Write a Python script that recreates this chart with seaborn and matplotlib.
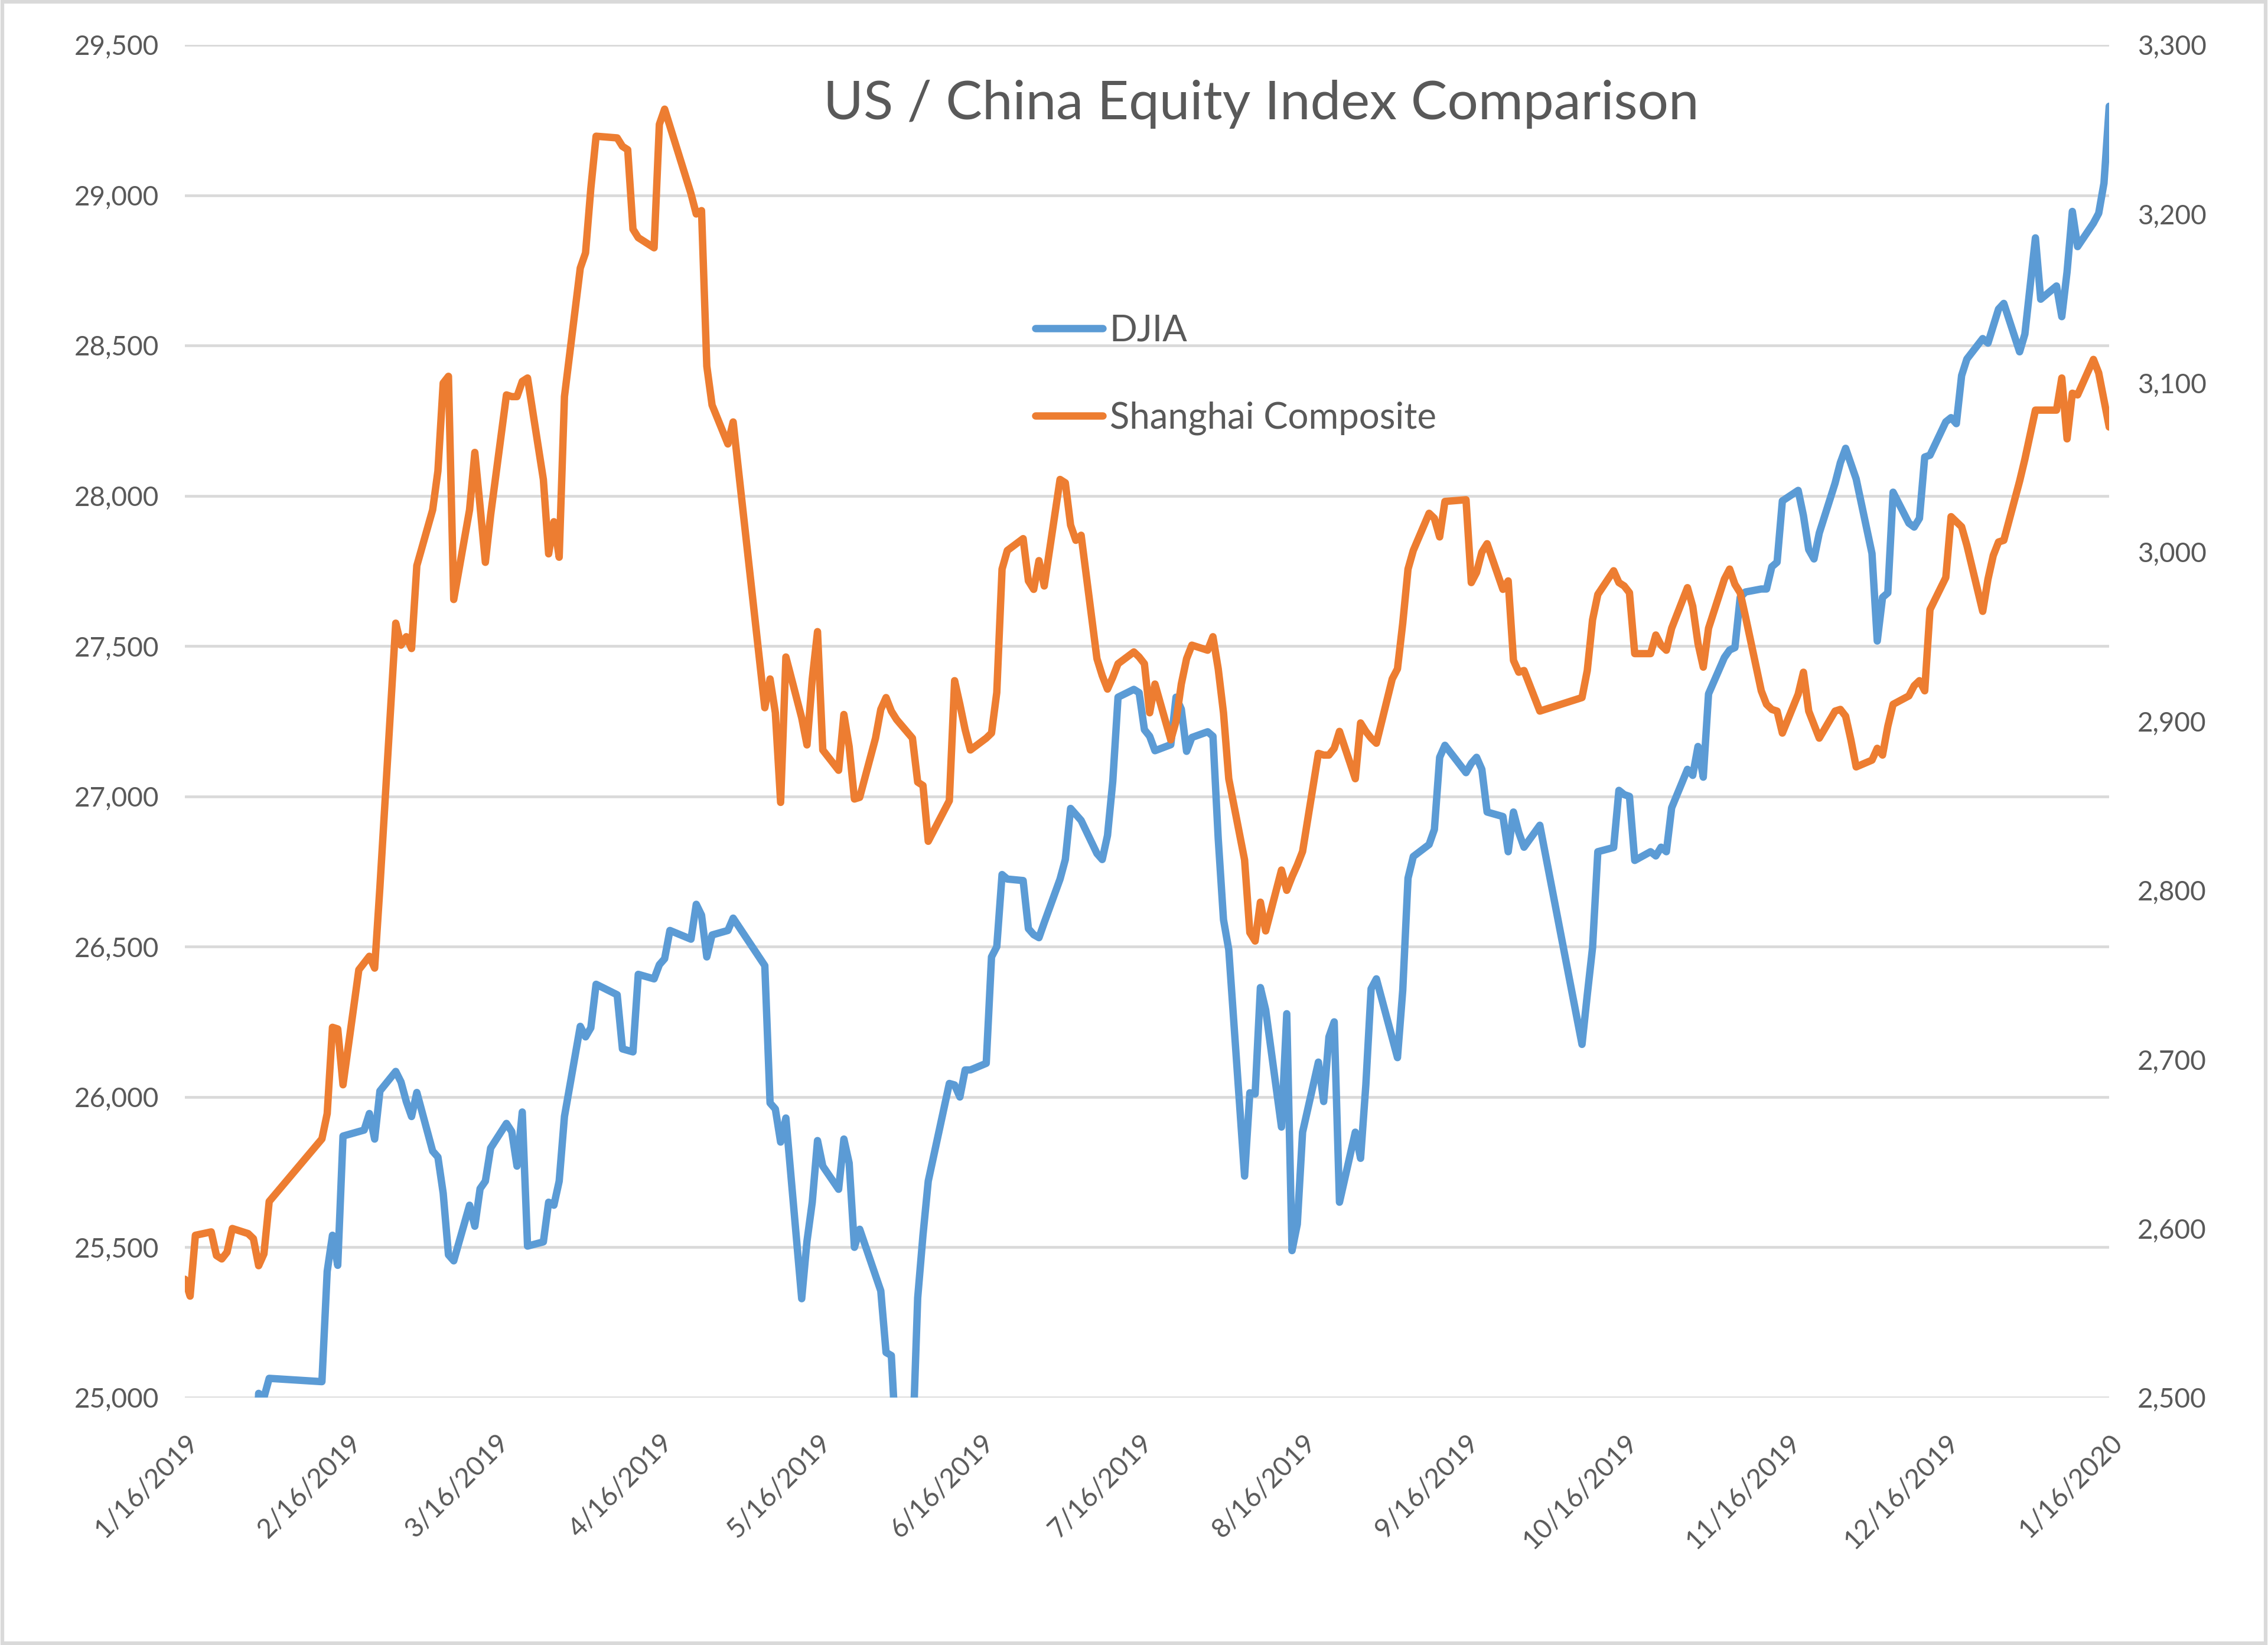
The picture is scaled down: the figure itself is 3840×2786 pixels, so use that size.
import pandas as pd
import seaborn as sns
import matplotlib.pyplot as plt
from matplotlib.patches import Rectangle

# === Data (DJIA left axis, Shanghai Composite right axis) ===
djia_dates = [
    "2019-01-16", "2019-01-17", "2019-01-18", "2019-01-22", "2019-01-23", "2019-01-24", "2019-01-25",
    "2019-01-28", "2019-01-29", "2019-01-30", "2019-01-31",
    "2019-02-01", "2019-02-11", "2019-02-12", "2019-02-13", "2019-02-14", "2019-02-15", "2019-02-19",
    "2019-02-20", "2019-02-21", "2019-02-22", "2019-02-25", "2019-02-26", "2019-02-27", "2019-02-28",
    "2019-03-01", "2019-03-04", "2019-03-05", "2019-03-06", "2019-03-07", "2019-03-08", "2019-03-11",
    "2019-03-12", "2019-03-13", "2019-03-14", "2019-03-15", "2019-03-18", "2019-03-19", "2019-03-20",
    "2019-03-21", "2019-03-22", "2019-03-25", "2019-03-26", "2019-03-27", "2019-03-28", "2019-03-29",
    "2019-04-01", "2019-04-02", "2019-04-03", "2019-04-04", "2019-04-08", "2019-04-09", "2019-04-10",
    "2019-04-11", "2019-04-12", "2019-04-15", "2019-04-16", "2019-04-17", "2019-04-18", "2019-04-22",
    "2019-04-23", "2019-04-24", "2019-04-25", "2019-04-26", "2019-04-29", "2019-04-30",
    "2019-05-06", "2019-05-07", "2019-05-08", "2019-05-09", "2019-05-10", "2019-05-13", "2019-05-14",
    "2019-05-15", "2019-05-16", "2019-05-17", "2019-05-20", "2019-05-21", "2019-05-22", "2019-05-23",
    "2019-05-24", "2019-05-28", "2019-05-29", "2019-05-30", "2019-05-31",
    "2019-06-03", "2019-06-04", "2019-06-05", "2019-06-06", "2019-06-10", "2019-06-11", "2019-06-12",
    "2019-06-13", "2019-06-14", "2019-06-17", "2019-06-18", "2019-06-19", "2019-06-20", "2019-06-21",
    "2019-06-24", "2019-06-25", "2019-06-26", "2019-06-27", "2019-06-28",
    "2019-07-01", "2019-07-02", "2019-07-03", "2019-07-05", "2019-07-08", "2019-07-09", "2019-07-10",
    "2019-07-11", "2019-07-12", "2019-07-15", "2019-07-16", "2019-07-17", "2019-07-18", "2019-07-19",
    "2019-07-22", "2019-07-23", "2019-07-24", "2019-07-25", "2019-07-26", "2019-07-29", "2019-07-30",
    "2019-07-31",
    "2019-08-01", "2019-08-02", "2019-08-05", "2019-08-06", "2019-08-07", "2019-08-08", "2019-08-09",
    "2019-08-12", "2019-08-13", "2019-08-14", "2019-08-15", "2019-08-16", "2019-08-19", "2019-08-20",
    "2019-08-21", "2019-08-22", "2019-08-23", "2019-08-26", "2019-08-27", "2019-08-28", "2019-08-29",
    "2019-08-30",
    "2019-09-03", "2019-09-04", "2019-09-05", "2019-09-06", "2019-09-09", "2019-09-10", "2019-09-11",
    "2019-09-12", "2019-09-16", "2019-09-17", "2019-09-18", "2019-09-19", "2019-09-20", "2019-09-23",
    "2019-09-24", "2019-09-25", "2019-09-26", "2019-09-27", "2019-09-30",
    "2019-10-08", "2019-10-09", "2019-10-10", "2019-10-11", "2019-10-14", "2019-10-15", "2019-10-16",
    "2019-10-17", "2019-10-18", "2019-10-21", "2019-10-22", "2019-10-23", "2019-10-24", "2019-10-25",
    "2019-10-28", "2019-10-29", "2019-10-30", "2019-10-31",
    "2019-11-01", "2019-11-04", "2019-11-05", "2019-11-06", "2019-11-07", "2019-11-08", "2019-11-11",
    "2019-11-12", "2019-11-13", "2019-11-14", "2019-11-15", "2019-11-18", "2019-11-19", "2019-11-20",
    "2019-11-21", "2019-11-22", "2019-11-25", "2019-11-26", "2019-11-27", "2019-11-29",
    "2019-12-02", "2019-12-03", "2019-12-04", "2019-12-05", "2019-12-06", "2019-12-09", "2019-12-10",
    "2019-12-11", "2019-12-12", "2019-12-13", "2019-12-16", "2019-12-17", "2019-12-18", "2019-12-19",
    "2019-12-20", "2019-12-23", "2019-12-24", "2019-12-26", "2019-12-27", "2019-12-30", "2019-12-31",
    "2020-01-02", "2020-01-03", "2020-01-06", "2020-01-07", "2020-01-08", "2020-01-09", "2020-01-10",
    "2020-01-13", "2020-01-14", "2020-01-15", "2020-01-16",
]
djia_values = [
    24207, 24370, 24706, 24404, 24575, 24553, 24737,
    24528, 24579, 25014, 25000,
    25064, 25053, 25420, 25540, 25440, 25870, 25890,
    25945, 25860, 26020, 26085, 26050, 25985, 25935,
    26015, 25820, 25800, 25680, 25475, 25455, 25640,
    25570, 25695, 25720, 25830, 25912, 25885, 25770,
    25950, 25504, 25518, 25650, 25640, 25720, 25935,
    26235, 26200, 26230, 26375, 26340, 26160, 26155,
    26150, 26408, 26393, 26440, 26460, 26554, 26525,
    26641, 26605, 26466, 26539, 26554, 26595,
    26437, 25980, 25960, 25850, 25930, 25329, 25520,
    25650, 25855, 25770, 25693, 25860, 25780, 25500,
    25560, 25355, 25150, 25140, 24815,
    24820, 25332, 25540, 25720, 26045, 26040, 26000,
    26090, 26090, 26112, 26466, 26500, 26740, 26725,
    26720, 26560, 26540, 26530, 26580,
    26725, 26790, 26960, 26920, 26810, 26790, 26870,
    27050, 27330, 27356, 27345, 27222, 27200, 27152,
    27172, 27330, 27290, 27150, 27196, 27215, 27200,
    26860,
    26590, 26490, 25737, 26014, 26010, 26364, 26290,
    25900, 26277, 25489, 25577, 25883, 26116, 25985,
    26200, 26250, 25650, 25883, 25796, 26040, 26360,
    26393,
    26131, 26355, 26728, 26800, 26840, 26890, 27130,
    27170, 27079, 27110, 27130, 27090, 26948, 26933,
    26816, 26948, 26880, 26831, 26904,
    26175, 26340, 26497, 26816, 26830, 27020, 27006,
    27000, 26787, 26816, 26802, 26831, 26816, 26962,
    27090, 27070, 27166, 27064,
    27341, 27462, 27487, 27495, 27662, 27680, 27690,
    27690, 27764, 27779, 27983, 28018, 27934, 27821,
    27790, 27876, 28042, 28110, 28158, 28056,
    27808, 27517, 27662, 27677, 28012, 27909, 27896,
    27925, 28129, 28135, 28246, 28260, 28240, 28400,
    28455, 28523, 28508, 28621, 28640, 28479, 28538,
    28858, 28654, 28698, 28596, 28745, 28946, 28829,
    28907, 28940, 29040, 29296,
]

sse_dates = [
    "2019-01-16", "2019-01-17", "2019-01-18", "2019-01-21", "2019-01-22", "2019-01-23", "2019-01-24",
    "2019-01-25", "2019-01-28", "2019-01-29", "2019-01-30", "2019-01-31",
    "2019-02-01", "2019-02-11", "2019-02-12", "2019-02-13", "2019-02-14", "2019-02-15", "2019-02-18",
    "2019-02-19", "2019-02-20", "2019-02-21", "2019-02-22", "2019-02-25", "2019-02-26", "2019-02-27",
    "2019-02-28",
    "2019-03-01", "2019-03-04", "2019-03-05", "2019-03-06", "2019-03-07", "2019-03-08", "2019-03-11",
    "2019-03-12", "2019-03-13", "2019-03-14", "2019-03-15", "2019-03-18", "2019-03-19", "2019-03-20",
    "2019-03-21", "2019-03-22", "2019-03-25", "2019-03-26", "2019-03-27", "2019-03-28", "2019-03-29",
    "2019-04-01", "2019-04-02", "2019-04-03", "2019-04-04", "2019-04-08", "2019-04-09", "2019-04-10",
    "2019-04-11", "2019-04-12", "2019-04-15", "2019-04-16", "2019-04-17", "2019-04-22", "2019-04-23",
    "2019-04-24", "2019-04-25", "2019-04-26", "2019-04-29", "2019-04-30",
    "2019-05-06", "2019-05-07", "2019-05-08", "2019-05-09", "2019-05-10", "2019-05-13", "2019-05-14",
    "2019-05-15", "2019-05-16", "2019-05-17", "2019-05-20", "2019-05-21", "2019-05-22", "2019-05-23",
    "2019-05-24", "2019-05-27", "2019-05-28", "2019-05-29", "2019-05-30", "2019-05-31",
    "2019-06-03", "2019-06-04", "2019-06-05", "2019-06-06", "2019-06-10", "2019-06-11", "2019-06-12",
    "2019-06-13", "2019-06-14", "2019-06-17", "2019-06-18", "2019-06-19", "2019-06-20", "2019-06-21",
    "2019-06-24", "2019-06-25", "2019-06-26", "2019-06-27", "2019-06-28",
    "2019-07-01", "2019-07-02", "2019-07-03", "2019-07-04", "2019-07-05", "2019-07-08", "2019-07-09",
    "2019-07-10", "2019-07-11", "2019-07-12", "2019-07-15", "2019-07-16", "2019-07-17", "2019-07-18",
    "2019-07-19", "2019-07-22", "2019-07-23", "2019-07-24", "2019-07-25", "2019-07-26", "2019-07-29",
    "2019-07-30", "2019-07-31",
    "2019-08-01", "2019-08-02", "2019-08-05", "2019-08-06", "2019-08-07", "2019-08-08", "2019-08-09",
    "2019-08-12", "2019-08-13", "2019-08-14", "2019-08-15", "2019-08-16", "2019-08-19", "2019-08-20",
    "2019-08-21", "2019-08-22", "2019-08-23", "2019-08-26", "2019-08-27", "2019-08-28", "2019-08-29",
    "2019-08-30",
    "2019-09-02", "2019-09-03", "2019-09-04", "2019-09-05", "2019-09-06", "2019-09-09", "2019-09-10",
    "2019-09-11", "2019-09-12", "2019-09-16", "2019-09-17", "2019-09-18", "2019-09-19", "2019-09-20",
    "2019-09-23", "2019-09-24", "2019-09-25", "2019-09-26", "2019-09-27", "2019-09-30",
    "2019-10-08", "2019-10-09", "2019-10-10", "2019-10-11", "2019-10-14", "2019-10-15", "2019-10-16",
    "2019-10-17", "2019-10-18", "2019-10-21", "2019-10-22", "2019-10-23", "2019-10-24", "2019-10-25",
    "2019-10-28", "2019-10-29", "2019-10-30", "2019-10-31",
    "2019-11-01", "2019-11-04", "2019-11-05", "2019-11-06", "2019-11-07", "2019-11-08", "2019-11-11",
    "2019-11-12", "2019-11-13", "2019-11-14", "2019-11-15", "2019-11-18", "2019-11-19", "2019-11-20",
    "2019-11-21", "2019-11-22", "2019-11-25", "2019-11-26", "2019-11-27", "2019-11-28", "2019-11-29",
    "2019-12-02", "2019-12-03", "2019-12-04", "2019-12-05", "2019-12-06", "2019-12-09", "2019-12-10",
    "2019-12-11", "2019-12-12", "2019-12-13", "2019-12-16", "2019-12-17", "2019-12-18", "2019-12-19",
    "2019-12-20", "2019-12-23", "2019-12-24", "2019-12-25", "2019-12-26", "2019-12-27", "2019-12-30",
    "2019-12-31",
    "2020-01-02", "2020-01-03", "2020-01-06", "2020-01-07", "2020-01-08", "2020-01-09", "2020-01-10",
    "2020-01-13", "2020-01-14", "2020-01-15", "2020-01-16",
]
sse_values = [
    2570, 2560, 2596, 2598, 2584, 2582, 2586,
    2600, 2597, 2594, 2578, 2585,
    2616, 2653, 2668, 2719, 2718, 2685, 2753,
    2757, 2761, 2754, 2802, 2958, 2945, 2950,
    2943,
    2992, 3025, 3048, 3100, 3104, 2972, 3025,
    3059, 3027, 2994, 3022, 3093, 3092, 3092,
    3101, 3103, 3043, 2999, 3018, 2997, 3092,
    3168, 3177, 3215, 3246, 3245, 3240, 3238,
    3191, 3186, 3180, 3253, 3262, 3212, 3200,
    3202, 3110, 3087, 3064, 3077,
    2908, 2925, 2905, 2852, 2938, 2902, 2886,
    2925, 2953, 2883, 2871, 2904, 2885, 2854,
    2855, 2890, 2907, 2914, 2906, 2901,
    2890, 2864, 2862, 2829, 2853, 2924, 2910,
    2895, 2883, 2890, 2893, 2917, 2990, 3001,
    3008, 2983, 2978, 2995, 2980,
    3043, 3041, 3016, 3007, 3010, 2937, 2927,
    2919, 2926, 2934, 2941, 2938, 2934, 2905,
    2922, 2889, 2900, 2922, 2937, 2945, 2942,
    2950, 2931,
    2905, 2866, 2818, 2775, 2770, 2793, 2776,
    2812, 2800, 2808, 2815, 2823, 2881, 2880,
    2880, 2884, 2894, 2866, 2899, 2894, 2890,
    2887,
    2925, 2931, 2958, 2990, 3001, 3023, 3020,
    3009, 3030, 3031, 2982, 2988, 3000, 3005,
    2978, 2983, 2936, 2929, 2930, 2906,
    2914, 2930, 2960, 2975, 2989, 2982, 2980,
    2976, 2940, 2940, 2951, 2945, 2942, 2955,
    2979, 2968, 2946, 2932,
    2955, 2984, 2990, 2981, 2976, 2962, 2918,
    2910, 2907, 2906, 2893, 2916, 2929, 2906,
    2898, 2890, 2906, 2907, 2903, 2889, 2873,
    2877, 2884, 2880, 2897, 2910, 2915, 2921,
    2924, 2918, 2966, 2985, 3021, 3018, 3015,
    3004, 2965, 2984, 2998, 3006, 3007, 3042,
    3055,
    3084, 3084, 3084, 3103, 3067, 3094, 3093,
    3114, 3106, 3090, 3074,
]

tick_labels = ["1/16/2019", "2/16/2019", "3/16/2019", "4/16/2019", "5/16/2019", "6/16/2019",
               "7/16/2019", "8/16/2019", "9/16/2019", "10/16/2019", "11/16/2019", "12/16/2019",
               "1/16/2020"]
left_ticks = [25000, 25500, 26000, 26500, 27000, 27500, 28000, 28500, 29000, 29500]
right_ticks = [2500, 2600, 2700, 2800, 2900, 3000, 3100, 3200, 3300]

# === Style ===
sns.set_theme(style="white")
plt.rcParams["font.family"] = ["Lato", "DejaVu Sans"]

text_color = "#595959"
grid_color = "#D9D9D9"
blue = "#5B9BD5"
orange = "#ED7D31"

djia = pd.DataFrame({"date": pd.to_datetime(djia_dates), "value": djia_values})
sse = pd.DataFrame({"date": pd.to_datetime(sse_dates), "value": sse_values})

fig = plt.figure(figsize=(12.8, 9.2867), dpi=300)
ax = fig.add_axes([0.0815, 0.1504, 0.8485, 0.8223])
ax2 = ax.twinx()

sns.lineplot(data=djia, x="date", y="value", ax=ax, color=blue, lw=3.0,
             label="DJIA", estimator=None, solid_capstyle="round")
sns.lineplot(data=sse, x="date", y="value", ax=ax2, color=orange, lw=3.0,
             label="Shanghai Composite", estimator=None, solid_capstyle="round")
for a in (ax, ax2):
    if a.get_legend() is not None:
        a.get_legend().remove()
    a.set_xlabel("")
    a.set_ylabel("")
    for s in a.spines.values():
        s.set_visible(False)

# === Axes ===
tick_pos = pd.to_datetime(tick_labels, format="%m/%d/%Y")
ax.set_xlim(tick_pos[0], tick_pos[-1])
ax.set_xticks(tick_pos)
ax.set_xticklabels(tick_labels, rotation=45, ha="right", va="top", rotation_mode="anchor")

ax.set_ylim(left_ticks[0], left_ticks[-1])
ax.set_yticks(left_ticks)
ax.set_yticklabels([f"{v:,}" for v in left_ticks])
ax2.set_ylim(right_ticks[0], right_ticks[-1])
ax2.set_yticks(right_ticks)
ax2.set_yticklabels([f"{v:,}" for v in right_ticks])

ax.grid(axis="y", color=grid_color, lw=1.1)
ax.grid(axis="x", visible=False)
ax2.grid(False)
ax.set_axisbelow(True)

ax.tick_params(axis="x", length=0, labelsize=11, labelcolor=text_color, pad=13)
ax.tick_params(axis="y", length=0, labelsize=11, labelcolor=text_color, pad=10.5)
ax2.tick_params(axis="y", length=0, labelsize=11, labelcolor=text_color, pad=11.5)

# === Title, legend, border ===
fig.text(0.556, 0.9365, "US / China Equity Index Comparison", ha="center", va="center",
         fontsize=22.2, color=text_color)

handles = [ax.get_lines()[0], ax2.get_lines()[0]]
fig.legend(handles, ["DJIA", "Shanghai Composite"], loc="center left",
           bbox_to_anchor=(0.4566, 0.7724), frameon=False, fontsize=14.8,
           handlelength=1.85, handletextpad=0.18, labelspacing=1.47,
           borderpad=0, borderaxespad=0, labelcolor=text_color)

fig.add_artist(Rectangle((0.001, 0.001), 0.998, 0.998, transform=fig.transFigure,
                         fill=False, edgecolor="#D9D9D9", lw=1.5))

fig.savefig("out.png", dpi=300)
plt.close(fig)
